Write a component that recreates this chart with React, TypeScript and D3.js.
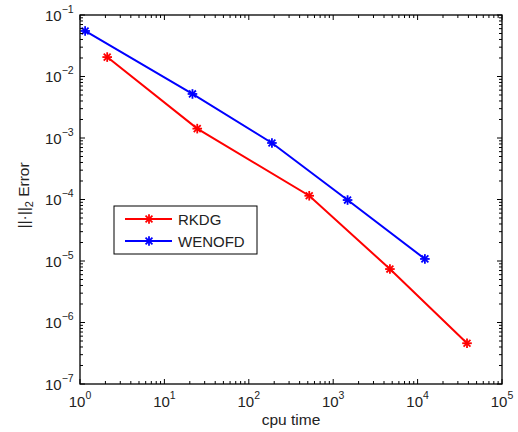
import React from "react";
import * as d3 from "d3";

const rkdgX = [2.1, 24.5, 520, 4700, 38500];
const rkdgY = [0.0207, 1.42e-3, 1.15e-4, 7.4e-6, 4.6e-7];
const wenoX = [1.15, 21.5, 188, 1480, 12200];
const wenoY = [0.055, 5.2e-3, 8.3e-4, 9.8e-5, 1.08e-5];
const xExps = [0, 1, 2, 3, 4, 5];
const yExps = [-7, -6, -5, -4, -3, -2, -1];
const seriesNames = ["RKDG", "WENOFD"];
const seriesColors = ["#ff0000", "#0000ff"];

const W = 518, H = 432;
const L = 80, R = 502, T = 15, B = 384;
const FONT = "'Liberation Sans', Arial, Helvetica, sans-serif";

function Marker({ x, y, color }: { x: number; y: number; color: string }) {
  const s = 4.8;
  const d = s * 0.72;
  return (
    <g stroke={color} strokeWidth={1.8}>
      <line x1={x - s} y1={y} x2={x + s} y2={y} />
      <line x1={x} y1={y - s} x2={x} y2={y + s} />
      <line x1={x - d} y1={y - d} x2={x + d} y2={y + d} />
      <line x1={x - d} y1={y + d} x2={x + d} y2={y - d} />
    </g>
  );
}

export default function App() {
  const x = d3.scaleLog().domain([1, 1e5]).range([L, R]);
  const y = d3.scaleLog().domain([1e-7, 1e-1]).range([B, T]);
  const line = d3
    .line<[number, number]>()
    .x((d) => x(d[0]))
    .y((d) => y(d[1]));

  const series = [
    { name: seriesNames[0], color: seriesColors[0], pts: rkdgX.map((v, i) => [v, rkdgY[i]] as [number, number]) },
    { name: seriesNames[1], color: seriesColors[1], pts: wenoX.map((v, i) => [v, wenoY[i]] as [number, number]) },
  ];

  const xMinor: number[] = [];
  for (let e = 0; e < 5; e++) for (let k = 2; k <= 9; k++) xMinor.push(k * Math.pow(10, e));
  const yMinor: number[] = [];
  for (let e = -7; e < -1; e++) for (let k = 2; k <= 9; k++) yMinor.push(k * Math.pow(10, e));

  const maj = 5, min = 3;
  const ticks: JSX.Element[] = [];
  xExps.forEach((e) => {
    const px = x(Math.pow(10, e));
    ticks.push(<line key={"xb" + e} x1={px} x2={px} y1={B} y2={B - maj} />);
    ticks.push(<line key={"xt" + e} x1={px} x2={px} y1={T} y2={T + maj} />);
  });
  xMinor.forEach((v, i) => {
    const px = x(v);
    ticks.push(<line key={"xmb" + i} x1={px} x2={px} y1={B} y2={B - min} />);
    ticks.push(<line key={"xmt" + i} x1={px} x2={px} y1={T} y2={T + min} />);
  });
  yExps.forEach((e) => {
    const py = y(Math.pow(10, e));
    ticks.push(<line key={"yl" + e} x1={L} x2={L + maj} y1={py} y2={py} />);
    ticks.push(<line key={"yr" + e} x1={R} x2={R - maj} y1={py} y2={py} />);
  });
  yMinor.forEach((v, i) => {
    const py = y(v);
    ticks.push(<line key={"yml" + i} x1={L} x2={L + min} y1={py} y2={py} />);
    ticks.push(<line key={"ymr" + i} x1={R} x2={R - min} y1={py} y2={py} />);
  });

  const fmtExp = (e: number) => (e < 0 ? "\u2212" + Math.abs(e) : String(e));

  return (
    <svg width={W} height={H} style={{ position: "absolute", left: 0, top: 0 }} fontFamily={FONT}>
      <rect x={0} y={0} width={W} height={H} fill="#fff" />
      <rect x={L} y={T} width={R - L} height={B - T} fill="#fff" />
      {series.map((s) => (
        <g key={s.name}>
          <path d={line(s.pts) || ""} fill="none" stroke={s.color} strokeWidth={2} />
          {s.pts.map((p, i) => (
            <Marker key={i} x={x(p[0])} y={y(p[1])} color={s.color} />
          ))}
        </g>
      ))}
      <g stroke="#000" strokeWidth={1}>{ticks}</g>
      <rect x={L} y={T} width={R - L} height={B - T} fill="none" stroke="#000" strokeWidth={1.3} />
      {xExps.map((e) => (
        <text key={"xl" + e} x={x(Math.pow(10, e))} y={407} fontSize={15} textAnchor="middle" fill="#222">
          10
          <tspan dy={-8} fontSize={10.5}>{fmtExp(e)}</tspan>
        </text>
      ))}
      {yExps.map((e) => (
        <text key={"yl" + e} x={45} y={y(Math.pow(10, e)) + 5.5} fontSize={15} fill="#222">
          10
          <tspan dy={-8} fontSize={10.5}>{fmtExp(e)}</tspan>
        </text>
      ))}
      <text x={(L + R) / 2} y={425} fontSize={15.5} textAnchor="middle" fill="#222">
        cpu time
      </text>
      <text transform={`translate(29,${(T + B) / 2 - 4}) rotate(-90)`} fontSize={15.5} textAnchor="middle" fill="#222">
        ||·||
        <tspan dy={4} fontSize={11}>2</tspan>
        <tspan dy={-4}> Error</tspan>
      </text>
      <g>
        <rect x={114} y={206} width={143} height={48} fill="#fff" stroke="#000" strokeWidth={1} />
        {series.map((s, i) => {
          const ly = 219 + i * 22;
          return (
            <g key={"lg" + s.name}>
              <line x1={125} x2={172} y1={ly} y2={ly} stroke={s.color} strokeWidth={2} />
              <Marker x={149} y={ly} color={s.color} />
              <text x={178} y={ly + 5.5} fontSize={15} fill="#222">
                {s.name}
              </text>
            </g>
          );
        })}
      </g>
    </svg>
  );
}
